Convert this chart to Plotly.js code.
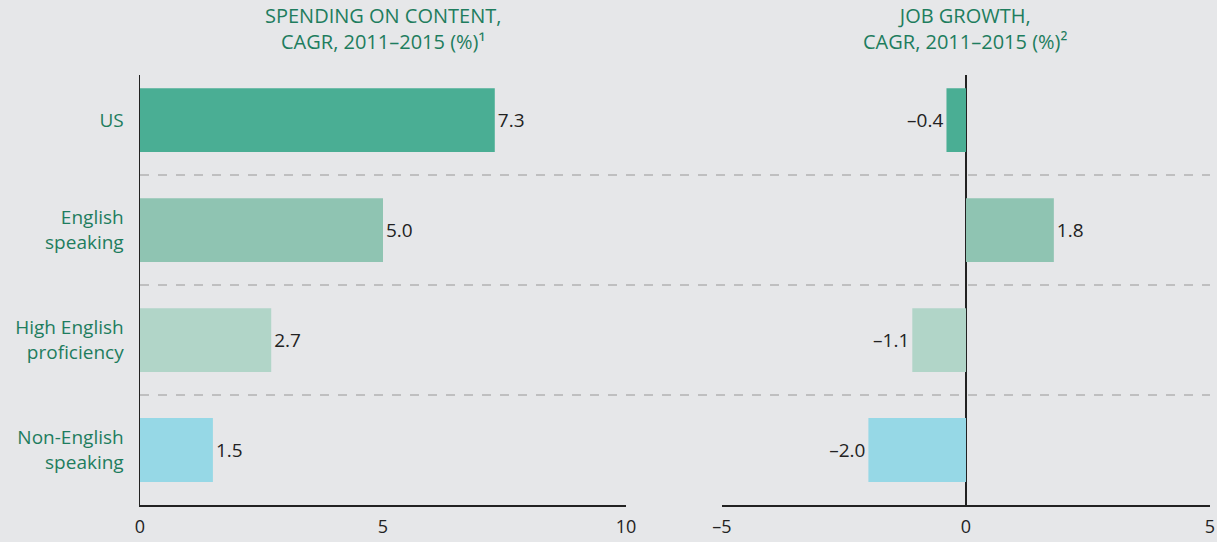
<!DOCTYPE html>
<html>
<head>
<meta charset="utf-8">
<script src="https://cdn.plot.ly/plotly-3.0.1.min.js"></script>
<style>html,body{margin:0;padding:0;background:#e6e7e9;}</style>
</head>
<body>
<div id="chart" style="width:1217px;height:542px;"></div>
<script>
const categories = ["US", "English<br>speaking", "High English<br>proficiency", "Non-English<br>speaking"];
const spending = [7.3, 5.0, 2.7, 1.5];
const jobGrowth = [-0.4, 1.8, -1.1, -2.0];
const barColors = ["#4aae94", "#8fc4b2", "#b1d5c8", "#96d8e6"];
const leftTicks = [0, 5, 10];
const rightTicks = [-5, 0, 5];
const leftTitle = "SPENDING ON CONTENT,<br>CAGR, 2011–2015 (%)¹";
const rightTitle = "JOB GROWTH,<br>CAGR, 2011–2015 (%)²";

const fmt = v => v.toFixed(1).replace("-", "–");
const fmtTick = v => String(v).replace("-", "–");

const green = "#1e7d5e";
const FAM = "Open Sans, sans-serif";
const valueFont = {family: FAM, size: 19, color: "#222"};
const tickFont = {family: FAM, size: 18, color: "#222"};

const traces = [
  {type: "bar", orientation: "h", x: spending, y: categories, xaxis: "x", yaxis: "y",
   marker: {color: barColors}, width: 0.58, text: spending.map(fmt), textposition: "outside",
   textfont: valueFont, cliponaxis: false, hoverinfo: "none"},
  {type: "bar", orientation: "h", x: jobGrowth, y: categories, xaxis: "x2", yaxis: "y2",
   marker: {color: barColors}, width: 0.58, text: jobGrowth.map(fmt), textposition: "outside",
   textfont: valueFont, cliponaxis: false, hoverinfo: "none"}
];

const d1 = 486 / 1070, d2 = 582 / 1070;
const shapes = [0.5, 1.5, 2.5].map(v => ({
  type: "line", xref: "paper", yref: "y", x0: 0, x1: 1, y0: v, y1: v,
  line: {color: "#b3b3b3", width: 1.5, dash: "dash"}, layer: "below"
}));

const layout = {
  width: 1217, height: 542,
  paper_bgcolor: "#e6e7e9", plot_bgcolor: "#e6e7e9",
  margin: {l: 140, r: 7, t: 75, b: 37},
  showlegend: false,
  shapes: shapes,
  xaxis: {domain: [0, d1], range: [0, 10], tickvals: leftTicks, ticktext: leftTicks.map(fmtTick),
    showgrid: false, zeroline: false, showline: true, linecolor: "#222", linewidth: 1.5,
    ticks: "outside", ticklen: 5, tickcolor: "rgba(0,0,0,0)", tickfont: tickFont, fixedrange: true},
  yaxis: {domain: [0, 1], type: "category", range: [3.5, -0.41], showgrid: false, zeroline: false,
    showline: true, linecolor: "#222", linewidth: 1.5, ticks: "outside", ticklen: 11,
    tickcolor: "rgba(0,0,0,0)", tickfont: {family: FAM, size: 19, color: green}},
  xaxis2: {domain: [d2, 1], range: [-5, 5], tickvals: rightTicks, ticktext: rightTicks.map(fmtTick),
    showgrid: false, zeroline: true, zerolinecolor: "#222", zerolinewidth: 1.5,
    showline: true, linecolor: "#222", linewidth: 1.5, anchor: "y2",
    ticks: "outside", ticklen: 5, tickcolor: "rgba(0,0,0,0)", tickfont: tickFont},
  yaxis2: {domain: [0, 1], type: "category", range: [3.5, -0.41], anchor: "x2", showgrid: false,
    zeroline: false, showline: false, showticklabels: false},
  annotations: [
    {text: leftTitle, xref: "paper", yref: "paper", x: d1 / 2, y: 1, yshift: 18, yanchor: "bottom",
     xanchor: "center", showarrow: false, align: "center",
     font: {family: FAM, size: 20, color: green}},
    {text: rightTitle, xref: "paper", yref: "paper", x: (d2 + 1) / 2, y: 1, yshift: 18, yanchor: "bottom",
     xanchor: "center", showarrow: false, align: "center",
     font: {family: FAM, size: 20, color: green}}
  ]
};

Plotly.newPlot("chart", traces, layout, {staticPlot: true});
</script>
</body>
</html>
